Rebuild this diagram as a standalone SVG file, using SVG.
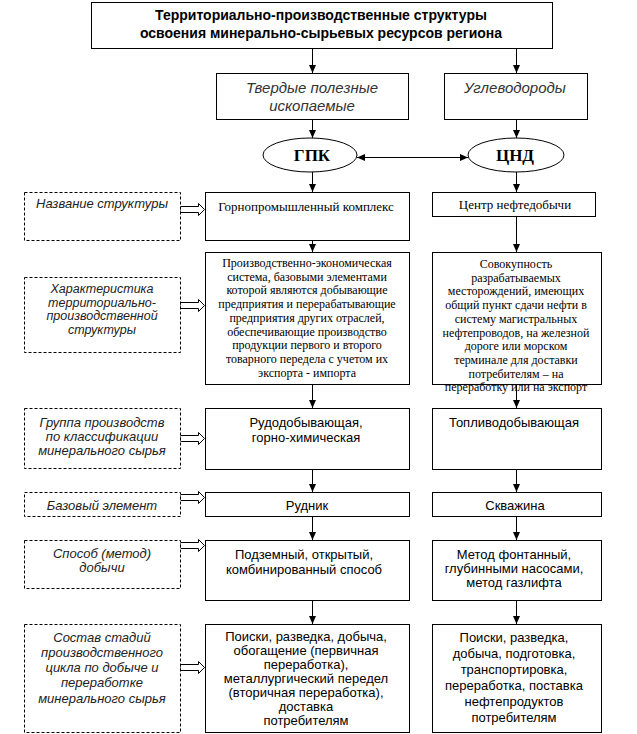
<svg xmlns="http://www.w3.org/2000/svg" width="637" height="734" viewBox="0 0 637 734">
<defs>
<marker id="ah" viewBox="0 0 8 8" refX="8" refY="4" markerWidth="8" markerHeight="8" markerUnits="userSpaceOnUse" orient="auto-start-reverse"><path d="M0,0.5 L8,4 L0,7.5 z" fill="#000"/></marker>
</defs>
<style>
.box{fill:#fff;stroke:#000;stroke-width:1}
.dash{fill:#fff;stroke:#000;stroke-width:1;stroke-dasharray:3 2}
.conn{stroke:#000;stroke-width:1;fill:none;marker-end:url(#ah)}
.dbl{stroke:#000;stroke-width:1;fill:none;marker-end:url(#ah);marker-start:url(#ah)}
.hollow{fill:#fff;stroke:#000;stroke-width:1}
text{text-anchor:middle;fill:#000}
.t-title{font-family:"Liberation Sans",Arial,sans-serif;font-weight:bold;font-size:14px}
.t-it{font-family:"Liberation Sans",Arial,sans-serif;font-style:italic;font-size:15px;fill:#333}
.t-ell{font-family:"Liberation Serif","Times New Roman",serif;font-weight:bold;font-size:17px}
.t-serif{font-family:"Liberation Serif","Times New Roman",serif;font-size:12px}
.t-serif13{font-family:"Liberation Serif","Times New Roman",serif;font-size:13px}
.t-sans{font-family:"Liberation Sans",Arial,sans-serif;font-size:13px}
.t-lab{font-family:"Liberation Sans",Arial,sans-serif;font-style:italic;font-size:13px;fill:#222}
.t-lab2{font-family:"Liberation Sans",Arial,sans-serif;font-style:italic;font-size:12.5px;fill:#222}
</style>

<g id="connectors">
<path class="conn" d="M312.5,48.5 V73"/>
<path class="conn" d="M516.5,48.5 V73"/>
<path class="conn" d="M312.5,119.5 V138"/>
<path class="conn" d="M516.5,119.5 V138"/>
<path class="dbl" d="M357,157.5 H468"/>
<path class="conn" d="M312.5,172 V192"/>
<path class="conn" d="M516.5,172 V192"/>
<path class="conn" d="M312.5,240.5 V252"/>
<path class="conn" d="M516.5,216.5 V252"/>
<path class="conn" d="M312.5,384.5 V408"/>
<path class="conn" d="M516.5,384.5 V408"/>
<path class="conn" d="M312.5,469.5 V492"/>
<path class="conn" d="M516.5,469.5 V492"/>
<path class="conn" d="M312.5,516.5 V540"/>
<path class="conn" d="M516.5,516.5 V540"/>
<path class="conn" d="M312.5,600.5 V624"/>
<path class="conn" d="M516.5,600.5 V624"/>
<path class="hollow" d="M180.5,206.5 H198.5 V203.5 L204.5,209.5 L198.5,215.5 V212.5 H180.5 Z"/>
<path class="hollow" d="M180.5,302.5 H198.5 V299.5 L204.5,305.5 L198.5,311.5 V308.5 H180.5 Z"/>
<path class="hollow" d="M180.5,435.5 H198.5 V432.5 L204.5,438.5 L198.5,444.5 V441.5 H180.5 Z"/>
<path class="hollow" d="M180.5,494.5 H198.5 V491.5 L204.5,497.5 L198.5,503.5 V500.5 H180.5 Z"/>
<path class="hollow" d="M180.5,542.5 H198.5 V539.5 L204.5,545.5 L198.5,551.5 V548.5 H180.5 Z"/>
<path class="hollow" d="M180.5,664.5 H198.5 V661.5 L204.5,667.5 L198.5,673.5 V670.5 H180.5 Z"/>
</g>

<g id="title">
<rect class="box" x="91.5" y="2.5" width="461" height="46"/>
<text class="t-title" x="321" y="20">Территориально-производственные структуры</text>
<text class="t-title" x="321" y="38">освоения минерально-сырьевых ресурсов региона</text>
</g>

<g id="solid">
<rect class="box" x="216.5" y="73.5" width="192" height="46"/>
<text class="t-it" x="312" y="93">Твердые полезные</text>
<text class="t-it" x="312" y="111">ископаемые</text>
</g>

<g id="hydrocarbons">
<rect class="box" x="444.5" y="73.5" width="143" height="46"/>
<text class="t-it" x="515" y="93">Углеводороды</text>
</g>

<g id="gpk">
<ellipse class="box" cx="310" cy="155" rx="47" ry="17"/>
<text class="t-ell" x="312" y="161">ГПК</text>
</g>

<g id="cnd">
<ellipse class="box" cx="516" cy="155" rx="48" ry="17"/>
<text class="t-ell" x="515" y="161">ЦНД</text>
</g>

<g id="lbl-name">
<rect class="dash" x="24.5" y="192.5" width="156" height="48"/>
<text class="t-lab" x="102" y="208">Название структуры</text>
</g>
<g id="lbl-char">
<rect class="dash" x="24.5" y="277.5" width="156" height="75"/>
<text class="t-lab2" x="102" y="293">Характеристика</text>
<text class="t-lab2" x="102" y="306.5">территориально-</text>
<text class="t-lab2" x="102" y="320">производственной</text>
<text class="t-lab2" x="102" y="333.5">структуры</text>
</g>
<g id="lbl-group">
<rect class="dash" x="24.5" y="408.5" width="156" height="60"/>
<text class="t-lab" x="102" y="427">Группа производств</text>
<text class="t-lab" x="102" y="441">по классификации</text>
<text class="t-lab" x="102" y="455">минерального сырья</text>
</g>
<g id="lbl-base">
<rect class="dash" x="24.5" y="492.5" width="156" height="24"/>
<text class="t-lab" x="102" y="510">Базовый элемент</text>
</g>
<g id="lbl-method">
<rect class="dash" x="24.5" y="540.5" width="156" height="48"/>
<text class="t-lab" x="102" y="558">Способ (метод)</text>
<text class="t-lab" x="102" y="572">добычи</text>
</g>
<g id="lbl-stages">
<rect class="dash" x="24.5" y="624.5" width="156" height="108"/>
<text class="t-lab" x="102" y="642">Состав стадий</text>
<text class="t-lab" x="102" y="657">производственного</text>
<text class="t-lab" x="102" y="672">цикла по добыче и</text>
<text class="t-lab" x="102" y="687">переработке</text>
<text class="t-lab" x="102" y="703">минерального сырья</text>
</g>

<g id="m-name">
<rect class="box" x="205.5" y="192.5" width="204" height="48"/>
<text class="t-serif13" x="306" y="211">Горнопромышленный комплекс</text>
</g>
<g id="r-name">
<rect class="box" x="432.5" y="192.5" width="163" height="24"/>
<text class="t-serif13" x="515" y="209">Центр нефтедобычи</text>
</g>

<g id="m-char">
<rect class="box" x="205.5" y="252.5" width="204" height="132"/>
<text class="t-serif" x="307" y="267">Производственно-экономическая</text>
<text class="t-serif" x="307" y="280.7">система, базовыми элементами</text>
<text class="t-serif" x="307" y="294.4">которой являются добывающие</text>
<text class="t-serif" x="307" y="308.1">предприятия и перерабатывающие</text>
<text class="t-serif" x="307" y="321.8">предприятия других отраслей,</text>
<text class="t-serif" x="307" y="335.5">обеспечивающие производство</text>
<text class="t-serif" x="307" y="349.2">продукции первого и второго</text>
<text class="t-serif" x="307" y="362.9">товарного передела с учетом их</text>
<text class="t-serif" x="307" y="376.6">экспорта - импорта</text>
</g>
<g id="r-char">
<rect class="box" x="432.5" y="252.5" width="169" height="132"/>
<text class="t-serif" x="516" y="268">Совокупность</text>
<text class="t-serif" x="516" y="281.7">разрабатываемых</text>
<text class="t-serif" x="516" y="295.4">месторождений, имеющих</text>
<text class="t-serif" x="516" y="309.1">общий пункт сдачи нефти в</text>
<text class="t-serif" x="516" y="322.8">систему магистральных</text>
<text class="t-serif" x="516" y="336.5">нефтепроводов, на железной</text>
<text class="t-serif" x="516" y="350.2">дороге или морском</text>
<text class="t-serif" x="516" y="363.9">терминале для доставки</text>
<text class="t-serif" x="516" y="377.6">потребителям – на</text>
<text class="t-serif" x="516" y="391.3">переработку или на экспорт</text>
</g>

<g id="m-group">
<rect class="box" x="205.5" y="408.5" width="204" height="61"/>
<text class="t-sans" x="306" y="427">Рудодобывающая,</text>
<text class="t-sans" x="306" y="442">горно-химическая</text>
</g>
<g id="r-group">
<rect class="box" x="432.5" y="408.5" width="169" height="61"/>
<text class="t-sans" x="514" y="427">Топливодобывающая</text>
</g>

<g id="m-base">
<rect class="box" x="205.5" y="492.5" width="204" height="24"/>
<text class="t-sans" x="307" y="510">Рудник</text>
</g>
<g id="r-base">
<rect class="box" x="432.5" y="492.5" width="169" height="24"/>
<text class="t-sans" x="515" y="510">Скважина</text>
</g>

<g id="m-method">
<rect class="box" x="205.5" y="540.5" width="204" height="60"/>
<text class="t-sans" x="304" y="559">Подземный, открытый,</text>
<text class="t-sans" x="304" y="574">комбинированный способ</text>
</g>
<g id="r-method">
<rect class="box" x="432.5" y="540.5" width="169" height="60"/>
<text class="t-sans" x="514" y="559">Метод фонтанный,</text>
<text class="t-sans" x="514" y="573">глубинными насосами,</text>
<text class="t-sans" x="514" y="587">метод газлифта</text>
</g>

<g id="m-stages">
<rect class="box" x="205.5" y="624.5" width="204" height="108"/>
<text class="t-sans" x="306" y="641">Поиски, разведка, добыча,</text>
<text class="t-sans" x="306" y="655">обогащение (первичная</text>
<text class="t-sans" x="306" y="669">переработка),</text>
<text class="t-sans" x="306" y="683">металлургический передел</text>
<text class="t-sans" x="306" y="697">(вторичная переработка),</text>
<text class="t-sans" x="306" y="711">доставка</text>
<text class="t-sans" x="306" y="725">потребителям</text>
</g>
<g id="r-stages">
<rect class="box" x="432.5" y="624.5" width="169" height="108"/>
<text class="t-sans" x="514" y="642">Поиски, разведка,</text>
<text class="t-sans" x="514" y="658">добыча, подготовка,</text>
<text class="t-sans" x="514" y="674">транспортировка,</text>
<text class="t-sans" x="514" y="690">переработка, поставка</text>
<text class="t-sans" x="514" y="706">нефтепродуктов</text>
<text class="t-sans" x="514" y="722">потребителям</text>
</g>
</svg>
